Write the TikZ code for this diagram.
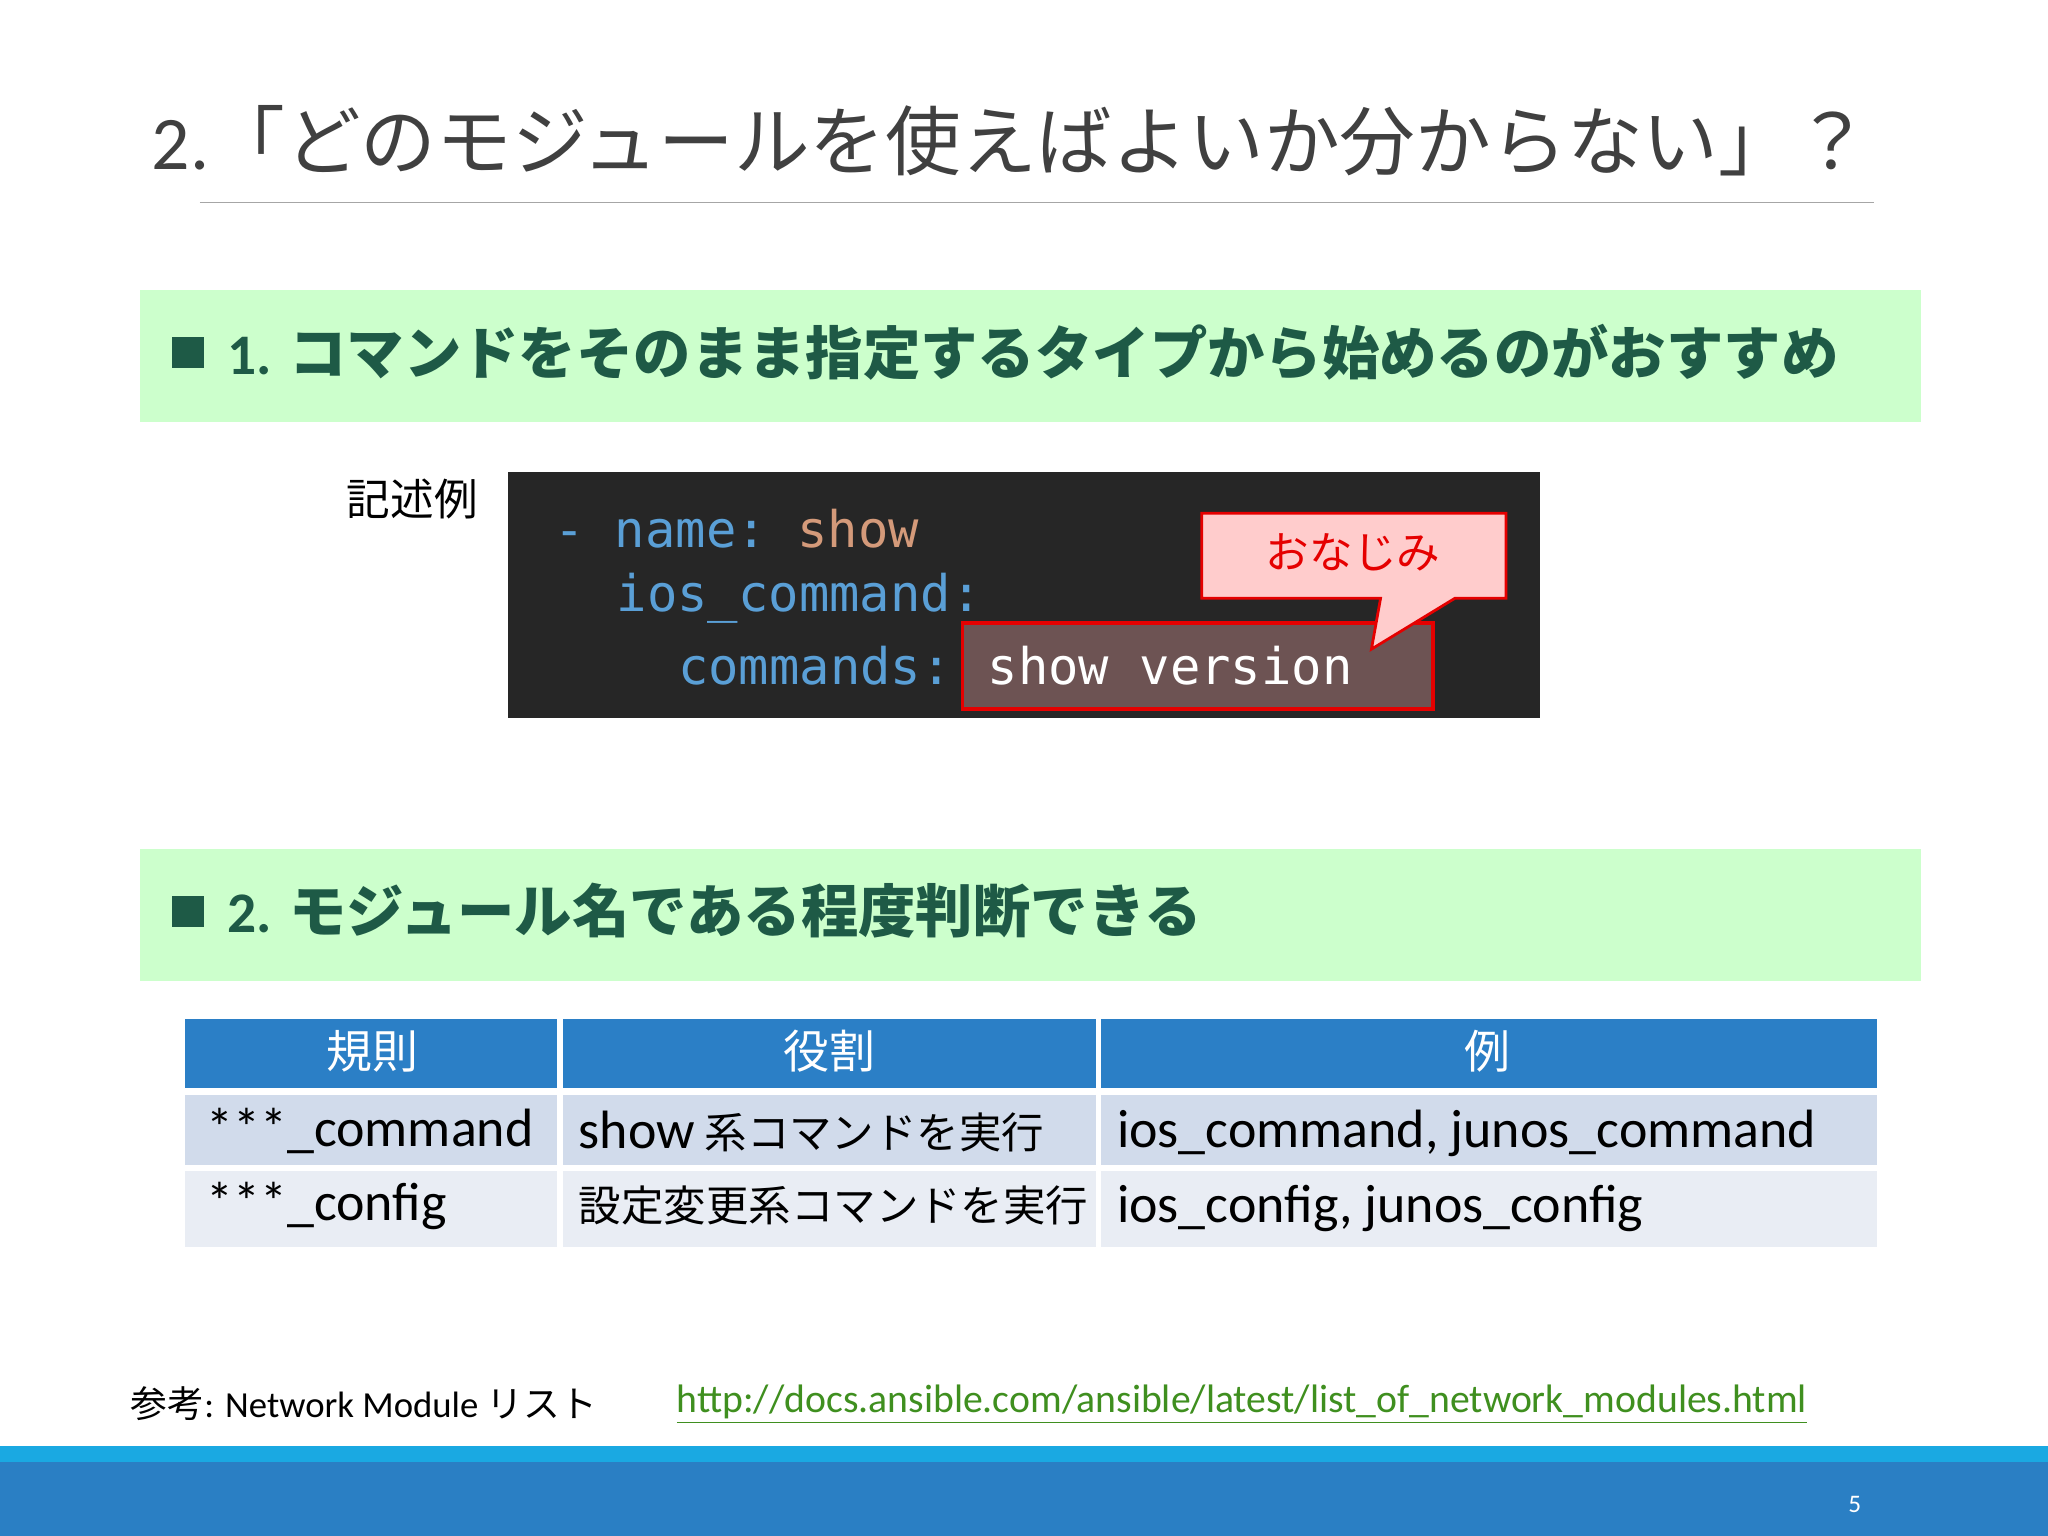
\documentclass[tikz,border=0pt]{standalone}
\usepackage{fontspec}
\setmainfont{Carlito}
\newfontfamily\jp{Noto Sans CJK JP}
\newfontfamily\jpb{Noto Sans CJK JP Bold}
\setmonofont{DejaVu Sans Mono}
\definecolor{band}{HTML}{CCFFCC}
\definecolor{hdr}{HTML}{1E5A46}
\definecolor{tblue}{HTML}{2B7FC6}
\definecolor{rowa}{HTML}{D1DBEB}
\definecolor{rowb}{HTML}{E9EDF4}
\definecolor{foot}{HTML}{2A7FC4}
\definecolor{stripe}{HTML}{1AA9E2}
\definecolor{kw}{HTML}{5A9FD6}
\definecolor{str}{HTML}{D49A7A}
\definecolor{codebg}{HTML}{262626}
\definecolor{link}{HTML}{3F8F1F}
\tikzset{
 cell/.style={anchor=west,font=\fontsize{18.5}{22}\selectfont\jp},
 lat/.style={anchor=west,font=\fontsize{23.5}{26}\selectfont},
 hcell/.style={font=\fontsize{20}{24}\selectfont\jp,text=white},
 code/.style={anchor=west,font=\fontsize{22}{24}\selectfont\ttfamily},
 head/.style={anchor=west,font=\fontsize{25}{28}\selectfont\jpb\bfseries,text=hdr}
}
\begin{document}
\begin{tikzpicture}[x=0.02cm,y=-0.02cm]
\useasboundingbox (0,0) rectangle (1568,1176);
\fill[white] (0,0) rectangle (1568,1176);
% title
\node[anchor=west,font=\fontsize{33}{36}\selectfont\jp,text=black!75] (title) at (110,108) {{\fontspec{Carlito}2.}「どのモジュールを使えばよいか分からない」？};
\draw[gray!70,line width=0.8pt] (153,155) -- (1435,155);
% band 1
\fill[band] (107,222) rectangle (1471,323);
\fill[hdr] (132,258) rectangle (156,282);
\node[head] (h1) at (168,270) {{\fontspec{Carlito}\bfseries 1.} コマンドをそのまま指定するタイプから始めるのがおすすめ};
% example
\node[anchor=east,font=\fontsize{19}{22}\selectfont\jp] (ex) at (372,382) {記述例};
\fill[codebg] (389,361) rectangle (1179,550);
\node[code,text=kw] (c1) at (418,405) {- name: \textcolor{str}{show}};
\node[code,text=kw] (c2) at (466,458) {ios\_command:};
\fill[white!25!codebg!90!red] (737,477) rectangle (1097,543);
\draw[red!90!black,line width=1.6pt] (737,477) rectangle (1097,543);
\node[code,text=kw] (c3) at (513,510) {commands:};
\node[code,text=white!85] (c4) at (750,510) {show version};
\draw[red!90!black,fill=red!20,line width=1.2pt] (920,393) -- (1153,393) -- (1153,458) -- (1114,458) -- (1050,497) -- (1057,458) -- (920,458) -- cycle;
\node[font=\fontsize{19}{22}\selectfont\jp,text=red!90!black] (cb) at (1036,423) {おなじみ};
% band 2
\fill[band] (107,650) rectangle (1471,751);
\fill[hdr] (132,686) rectangle (156,710);
\node[head] (h2) at (168,697) {{\fontspec{Carlito}\bfseries 2.} モジュール名である程度判断できる};
% table
\fill[tblue] (142,780) rectangle (1437,833);
\fill[rowa] (142,838) rectangle (1437,893);
\fill[rowb] (142,896) rectangle (1437,955);
\draw[white,line width=2.5pt] (429,780) -- (429,955) (841,780) -- (841,955) (142,836) -- (1437,836) (142,894) -- (1437,894);
\node[hcell] (t1) at (285,805) {規則};
\node[hcell] (t2) at (635,805) {役割};
\node[hcell] (t3) at (1139,805) {例};
\node[lat] (r11) at (152,866) {***\_command};
\node[cell] (r12) at (437,866) {{\fontsize{23.5}{26}\fontspec{Carlito}show} 系コマンドを実行};
\node[lat] (r13) at (849,868) {ios\_command, junos\_command};
\node[lat] (r21) at (152,923) {***\_config};
\node[cell] (r22) at (437,923) {設定変更系コマンドを実行};
\node[lat] (r23) at (849,925) {ios\_config, junos\_config};
% footer
\node[anchor=west,font=\fontsize{16}{18}\selectfont\jp] (ref) at (94,1075) {参考{\fontspec{Carlito}: Network Module} リスト};
\node[anchor=west,font=\fontsize{17.3}{19}\selectfont,text=link] (url) at (512,1075) {\underline{http://docs.ansible.com/ansible/latest/list\_of\_network\_modules.html}};
\fill[stripe] (0,1107) rectangle (1568,1119);
\fill[foot] (0,1119) rectangle (1568,1176);
\node[text=white,font=\fontsize{11}{13}\selectfont] (pg) at (1420,1152) {5};
\end{tikzpicture}
\end{document}
